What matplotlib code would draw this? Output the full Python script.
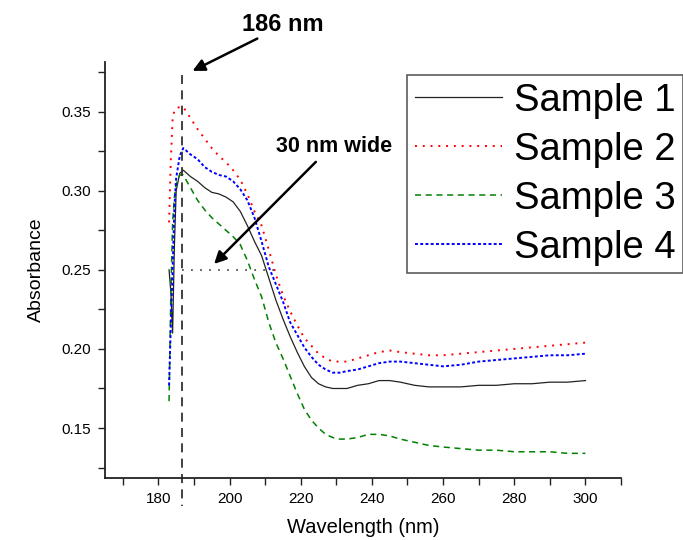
import matplotlib
matplotlib.use("Agg")
import matplotlib.pyplot as plt
from matplotlib.ticker import MultipleLocator, FormatStrFormatter

plt.rcParams["font.family"] = ["Liberation Sans", "DejaVu Sans"]

# --- Data ---
wavelength = [183.0, 183.5, 184.0, 184.5, 185.0, 186.0, 187.0, 189, 191, 193, 195,
              197, 199, 201, 203, 205, 207, 209, 211, 213, 215, 217, 219, 221,
              223, 225, 227, 229, 231, 233, 236, 239, 242, 245, 248, 252, 256,
              260, 265, 270, 275, 280, 285, 290, 295, 300]

sample1 = [0.250, 0.236, 0.210, 0.265, 0.300, 0.311, 0.313, 0.309, 0.306, 0.302, 0.299,
           0.298, 0.296, 0.293, 0.287, 0.278, 0.268, 0.259, 0.245, 0.231, 0.219, 0.208,
           0.198, 0.189, 0.182, 0.178, 0.176, 0.175, 0.175, 0.175, 0.177, 0.178, 0.180,
           0.180, 0.179, 0.177, 0.176, 0.176, 0.176, 0.177, 0.177, 0.178, 0.178, 0.179,
           0.179, 0.180]

sample2 = [0.280, 0.320, 0.345, 0.351, 0.352, 0.353, 0.353, 0.346, 0.339, 0.333, 0.327,
           0.322, 0.318, 0.313, 0.307, 0.298, 0.287, 0.278, 0.263, 0.247, 0.234, 0.224,
           0.215, 0.207, 0.202, 0.197, 0.194, 0.192, 0.192, 0.192, 0.194, 0.196, 0.198,
           0.199, 0.198, 0.197, 0.196, 0.196, 0.197, 0.198, 0.199, 0.200, 0.201, 0.202,
           0.203, 0.204]

sample3 = [0.167, 0.235, 0.280, 0.296, 0.304, 0.310, 0.310, 0.302, 0.294, 0.288, 0.283,
           0.279, 0.275, 0.271, 0.266, 0.256, 0.244, 0.233, 0.217, 0.204, 0.194, 0.183,
           0.172, 0.162, 0.155, 0.150, 0.146, 0.144, 0.143, 0.143, 0.144, 0.146, 0.146,
           0.145, 0.143, 0.141, 0.139, 0.138, 0.137, 0.136, 0.136, 0.135, 0.135, 0.135,
           0.134, 0.134]

sample4 = [0.177, 0.215, 0.250, 0.290, 0.308, 0.322, 0.327, 0.323, 0.320, 0.315, 0.312,
           0.310, 0.309, 0.306, 0.301, 0.294, 0.283, 0.268, 0.252, 0.241, 0.230, 0.217,
           0.209, 0.201, 0.195, 0.190, 0.187, 0.185, 0.185, 0.186, 0.187, 0.189, 0.191,
           0.192, 0.192, 0.191, 0.190, 0.189, 0.190, 0.192, 0.193, 0.194, 0.195, 0.196,
           0.196, 0.197]

labels = ["Sample 1", "Sample 2", "Sample 3", "Sample 4"]

peak_nm = 186.7
half_level = 0.25
half_end_nm = 213.3

# --- Figure ---
fig = plt.figure(figsize=(6.83, 5.40), dpi=100)
ax = fig.add_axes([105 / 683, 1 - 477.7 / 540, (621 - 105) / 683, (477.7 - 62) / 540])

ax.plot(wavelength, sample1, color="#222222", lw=0.9, ls="-", label=labels[0])
ax.plot(wavelength, sample2, color="red", lw=1.4, ls=(0, (1, 3)), label=labels[1])
ax.plot(wavelength, sample3, color="green", lw=1.1, ls=(0, (4, 3)), label=labels[2])
ax.plot(wavelength, sample4, color="blue", lw=1.4, ls=(0, (1.5, 1.2)), label=labels[3])

# marker lines
ax.plot([peak_nm, peak_nm], [0.373, 0.101], color="#333333", lw=1.3,
        ls=(0, (5, 3.5)), clip_on=False)
ax.plot([peak_nm, half_end_nm], [half_level, half_level], color="#555555", lw=1.3,
        ls=(0, (1, 4)))

ax.set_xlim(165, 310)
ax.set_ylim(0.1186, 0.3814)

ax.xaxis.set_major_locator(MultipleLocator(20))
ax.xaxis.set_minor_locator(MultipleLocator(10))
ax.yaxis.set_major_locator(MultipleLocator(0.05))
ax.yaxis.set_minor_locator(MultipleLocator(0.025))
ax.yaxis.set_major_formatter(FormatStrFormatter("%.2f"))

for s in ["top", "right"]:
    ax.spines[s].set_visible(False)
for s in ["left", "bottom"]:
    ax.spines[s].set_linewidth(1.3)
    ax.spines[s].set_color("#222222")

ax.tick_params(which="both", direction="out", length=5, width=1.0, color="#222222",
               labelsize=11, pad=5)

ax.set_xlabel("Wavelength (nm)", fontsize=14.5, labelpad=9)
ax.set_ylabel("Absorbance", fontsize=14, labelpad=12)

# annotations
ax.text(215.0, 0.405, "186 nm", fontsize=17, fontweight="bold", ha="center", va="center")
ax.annotate("", xy=(188.9, 0.375), xytext=(208.5, 0.397), annotation_clip=False,
            arrowprops=dict(arrowstyle="-|>", lw=1.8, color="black", mutation_scale=18))
ax.text(229.3, 0.3277, "30 nm wide", fontsize=15.5, fontweight="bold", ha="center",
        va="center")
ax.annotate("", xy=(195.1, 0.2525), xytext=(224.8, 0.3195),
            arrowprops=dict(arrowstyle="-|>", lw=1.8, color="black", mutation_scale=18))

leg = fig.legend(loc="upper left", bbox_to_anchor=(407 / 683, 1 - 75 / 540),
                 fontsize=27.5, frameon=True, fancybox=False, borderaxespad=0,
                 borderpad=0.2, handlelength=2.3, handletextpad=0.3,
                 labelspacing=0.34)
leg.get_frame().set_edgecolor("#333333")
leg.get_frame().set_linewidth(1.2)

fig.savefig("out.png", dpi=100)
